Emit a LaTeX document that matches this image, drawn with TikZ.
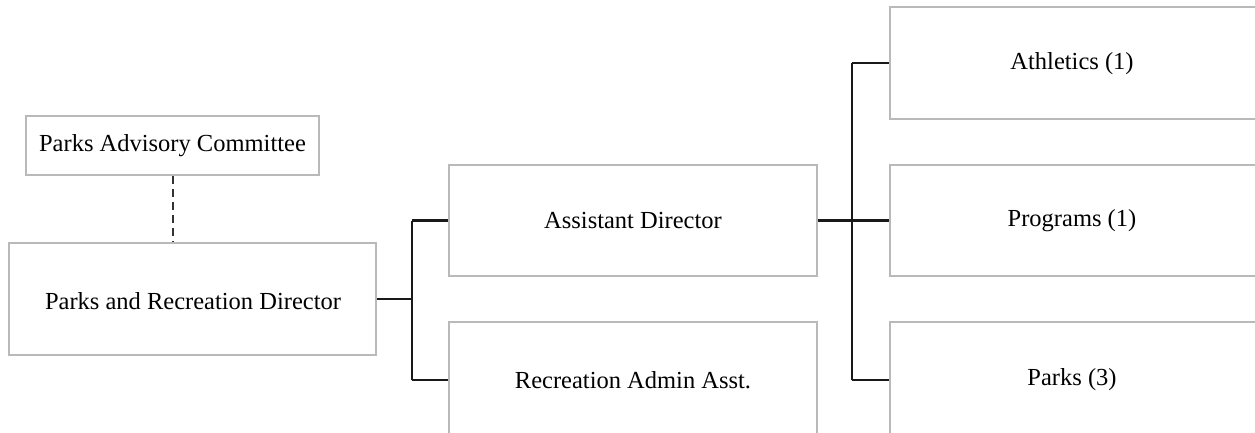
\documentclass[tikz,border=0pt]{standalone}
\usepackage{fontspec}
\setmainfont{Liberation Serif}
\begin{document}
\begin{tikzpicture}[x=1pt,y=-1pt,
  box/.style={draw=boxgray,line width=1.5pt,fill=white,inner sep=0pt},
  lbl/.style={font=\fontsize{24.5}{28}\selectfont,text=black,inner sep=0pt},
  conn/.style={draw=black!90,line width=2.2pt},
  dashconn/.style={draw=black!80,line width=2pt,dash pattern=on 8pt off 5pt}]
\definecolor{boxgray}{RGB}{185,185,185}
\useasboundingbox (0,0) rectangle (1255,433);
\clip (0,0) rectangle (1255,433);
\fill[white] (0,0) rectangle (1255,433);
% boxes
\node[box,minimum width=293pt,minimum height=59pt] (pac) at (172.5,145.5) {};
\node[lbl] (pact) at (172.5,146) {Parks Advisory Committee};
\node[box,minimum width=367pt,minimum height=112pt] (dir) at (192.5,299) {};
\node[lbl] (dirt) at (193,301) {Parks and Recreation Director};
\node[box,minimum width=368pt,minimum height=111pt] (ad) at (633,220.5) {};
\node[lbl] (adt) at (633,221) {Assistant Director};
\node[box,minimum width=368pt,minimum height=160pt] (raa) at (633,402) {};
\node[lbl] (raat) at (633,380) {Recreation Admin Asst.};
\node[box,minimum width=370pt,minimum height=112pt] (ath) at (1075,63) {};
\node[lbl] (atht) at (1072,64) {Athletics (1)};
\node[box,minimum width=370pt,minimum height=111pt] (prg) at (1075,220.5) {};
\node[lbl] (prgt) at (1072,221) {Programs (1)};
\node[box,minimum width=370pt,minimum height=160pt] (prk) at (1075,402) {};
\node[lbl] (prkt) at (1072,380) {Parks (3)};
% connectors
\coordinate (j1) at (412,299);
\coordinate (j2) at (852,220);
\draw[dashconn] (pac.south) -- (pac.south |- dir.north);
\draw[conn] (dir.east |- j1) -- (j1);
\draw[conn] (j1 |- ad.west) -- (ad.west);
\draw[conn] (j1 |- raat.east) -- (raa.west |- raat.east);
\draw[conn] (j1 |- ad.west) -- (j1 |- raat.east);
\draw[conn] (ad.east) -- (prg.west);
\draw[conn] (j2 |- ath.west) -- (ath.west);
\draw[conn] (j2 |- prkt.east) -- (prk.west |- prkt.east);
\draw[conn] (j2 |- ath.west) -- (j2 |- prkt.east);
\end{tikzpicture}
\end{document}
